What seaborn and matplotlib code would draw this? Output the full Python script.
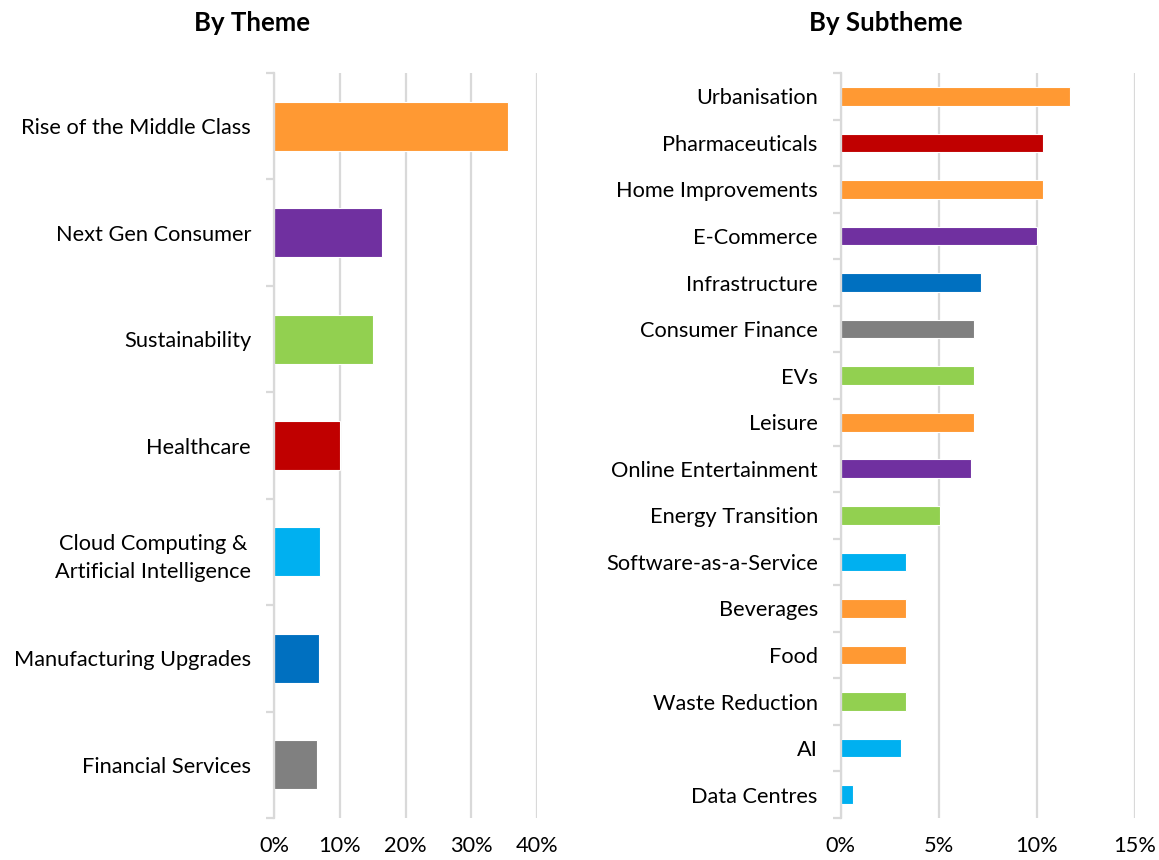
import matplotlib
matplotlib.use("Agg")
import matplotlib.pyplot as plt
import seaborn as sns
import pandas as pd

# data (percent of portfolio)
themes = ["Rise of the Middle Class", "Next Gen Consumer", "Sustainability", "Healthcare",
          "Cloud Computing &\nArtificial Intelligence", "Manufacturing Upgrades", "Financial Services"]
theme_pct = [35.5, 16.4, 15.1, 10.0, 7.0, 6.9, 6.5]
theme_colors = ["#FF9933", "#7030A0", "#92D050", "#C00000", "#00B0F0", "#0070C0", "#808080"]

subthemes = ["Urbanisation", "Pharmaceuticals", "Home Improvements", "E-Commerce", "Infrastructure",
             "Consumer Finance", "EVs", "Leisure", "Online Entertainment", "Energy Transition",
             "Software-as-a-Service", "Beverages", "Food", "Waste Reduction", "AI", "Data Centres"]
subtheme_pct = [11.7, 10.3, 10.3, 10.0, 7.15, 6.8, 6.8, 6.8, 6.65, 5.05,
                3.33, 3.33, 3.33, 3.33, 3.05, 0.6]
subtheme_colors = ["#FF9933", "#C00000", "#FF9933", "#7030A0", "#0070C0", "#808080", "#92D050",
                   "#FF9933", "#7030A0", "#92D050", "#00B0F0", "#FF9933", "#FF9933", "#92D050",
                   "#00B0F0", "#00B0F0"]

theme_ticks = [0, 10, 20, 30, 40]
subtheme_ticks = [0, 5, 10, 15]

sns.set_theme(style="white")
plt.rcParams['font.family'] = ['Lato', 'DejaVu Sans']

grid_col = "#D9D9D9"
fs = 15.7

fig = plt.figure(figsize=(11.59, 8.6), dpi=100)
ax1 = fig.add_axes([0.2364, 0.0488, 0.2272, 0.8663])
ax2 = fig.add_axes([0.7254, 0.0488, 0.2539, 0.8663])


def draw(ax, cats, vals, cols, ticks, width):
    df = pd.DataFrame({"cat": cats, "val": vals})
    sns.barplot(data=df, x="val", y="cat", hue="cat", palette=dict(zip(cats, cols)),
                order=cats, orient="h", width=width, legend=False, saturation=1,
                edgecolor="white", linewidth=0.8, ax=ax)
    n = len(cats)
    ax.set_xlim(ticks[0], ticks[-1])
    ax.set_ylim(n - 0.5, -0.5)
    ax.set_xticks(ticks)
    ax.set_xticklabels([f"{t}%" for t in ticks])
    ax.set_xlabel("")
    ax.set_ylabel("")
    ax.xaxis.grid(True, color=grid_col, linewidth=1.6)
    ax.set_axisbelow(True)
    for s in ["top", "right", "bottom"]:
        ax.spines[s].set_visible(False)
    ax.spines["left"].set_color(grid_col)
    ax.spines["left"].set_linewidth(1.6)
    ax.set_yticks([i - 0.5 for i in range(n + 1)], minor=True)
    ax.tick_params(axis="y", which="minor", length=6, width=1.6, color=grid_col, left=True)
    ax.tick_params(axis="y", which="major", length=0, pad=16.5, labelsize=fs, labelcolor="black")
    ax.tick_params(axis="x", length=0, pad=13, labelsize=fs, labelcolor="black")
    for lbl in ax.get_yticklabels():
        lbl.set_multialignment("center")
        lbl.set_linespacing(1.5)


draw(ax1, themes, theme_pct, theme_colors, theme_ticks, 0.46)
draw(ax2, subthemes, subtheme_pct, subtheme_colors, subtheme_ticks, 0.4)

fig.text(252 / 1159, 1 - 23 / 860, "By Theme", ha="center", va="center",
         fontsize=18.5, fontweight="bold", color="black")
fig.text(886 / 1159, 1 - 23 / 860, "By Subtheme", ha="center", va="center",
         fontsize=18.5, fontweight="bold", color="black")

fig.savefig("out.png", dpi=100, facecolor="white")
